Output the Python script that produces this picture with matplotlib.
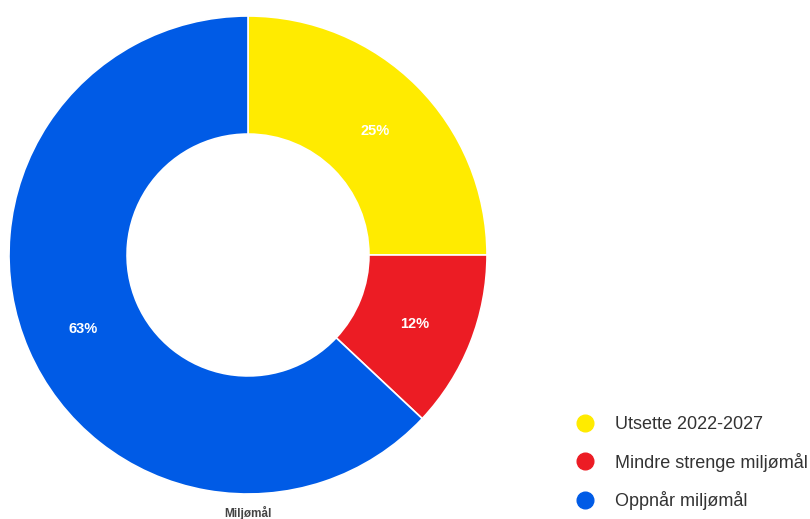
import matplotlib.pyplot as plt
from matplotlib.lines import Line2D
from matplotlib.transforms import offset_copy

plt.rcParams['font.family'] = ['Liberation Sans', 'DejaVu Sans']

# status categories and their share (%)
labels = ["Utsette 2022-2027", "Mindre strenge miljømål", "Oppnår miljømål"]
shares = [25, 12, 63]
colors = ["#FFEB00", "#EC1C24", "#005BE6"]
title = "Miljømål"

W, H = 810, 519
fig = plt.figure(figsize=(W / 100, H / 100), dpi=100)

# donut centred at (248, 255) px, outer radius 239 px
cx, cy, r = 248, 255, 239
ax = fig.add_axes([(cx - r) / W, (H - cy - r) / H, 2 * r / W, 2 * r / H])
wedges, texts, autotexts = ax.pie(
    shares, colors=colors, startangle=90, counterclock=False,
    autopct="%d%%", pctdistance=0.75, radius=1,
    wedgeprops=dict(width=0.494, edgecolor="white", linewidth=1.2),
    textprops=dict(color="white", fontsize=10.5, fontweight="bold"))
for t in autotexts:
    t.set_transform(offset_copy(t.get_transform(), fig=fig, y=-3, units="dots"))
ax.set_xlim(-1, 1)
ax.set_ylim(-1, 1)
ax.set_aspect("equal")
ax.axis("off")

fig.text(cx / W, 1 - 513 / H, title, ha="center", va="center",
         fontsize=8.5, fontweight="bold", color="#444444")

handles = [Line2D([], [], marker="o", linestyle="none", markersize=12,
                  markerfacecolor=c, markeredgecolor=c) for c in colors]
fig.legend(handles, labels, loc="upper left",
           bbox_to_anchor=(560 / W, 1 - 409 / H), frameon=False,
           fontsize=13, labelspacing=1.08, handletextpad=0.62,
           labelcolor="#333333", borderaxespad=0)

fig.savefig("out.png", dpi=100)
